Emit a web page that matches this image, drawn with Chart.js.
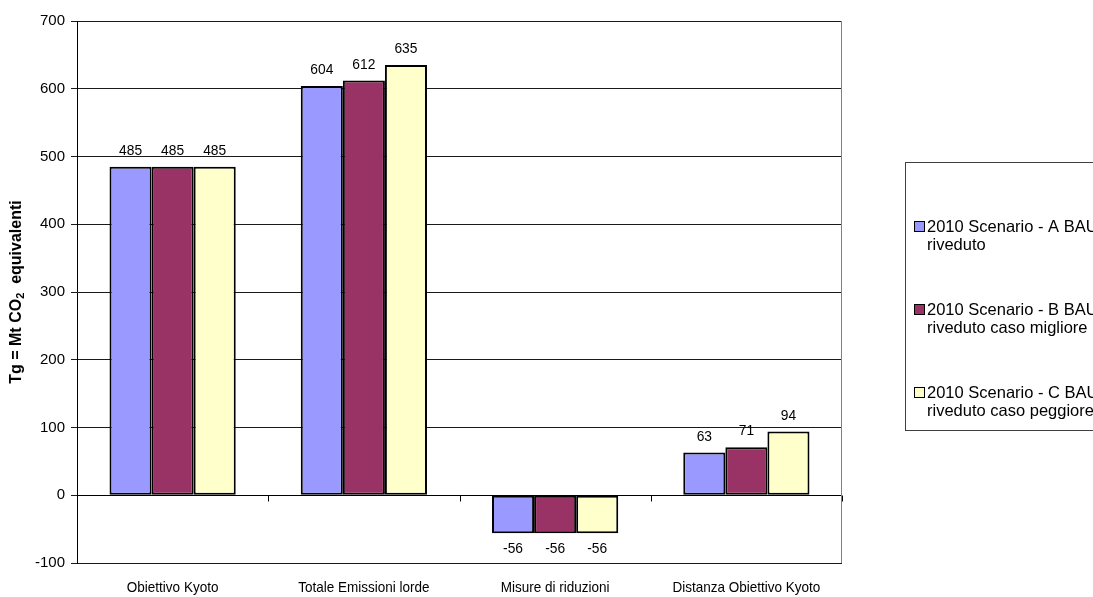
<!DOCTYPE html>
<html>
<head>
<meta charset="utf-8">
<script src="https://cdn.jsdelivr.net/npm/chart.js@4/dist/chart.umd.min.js"></script>
<style>
  html,body{margin:0;padding:0;background:#fff;}
  #wrap{position:relative;width:1093px;height:597px;overflow:hidden;}
</style>
</head>
<body>
<div id="wrap"><canvas id="c" width="1093" height="597"></canvas></div>
<script>
// emissions scenarios, Mt CO2 eq
const categories = ['Obiettivo Kyoto','Totale Emissioni lorde','Misure di riduzioni','Distanza Obiettivo Kyoto'];
const scenarioA = [485, 604, -56, 63];
const scenarioB = [485, 612, -56, 71];
const scenarioC = [485, 635, -56, 94];
const seriesNames = [
  ['2010 Scenario - A BAU','riveduto'],
  ['2010 Scenario - B BAU','riveduto caso migliore'],
  ['2010 Scenario - C BAU','riveduto caso peggiore']
];
const colors = ['#9999FF','#993366','#FFFFCC'];
const yTicks = [-100,0,100,200,300,400,500,600,700];

const FONT = '"Liberation Sans", Arial, sans-serif';

// value labels above / below each bar
const valueLabels = {
  id:'valueLabels',
  afterDatasetsDraw(chart){
    const ctx = chart.ctx;
    ctx.save();
    ctx.font = '15px ' + FONT;
    ctx.fillStyle = '#000';
    ctx.textAlign = 'center';
    ctx.textBaseline = 'middle';
    chart.data.datasets.forEach((ds,i)=>{
      chart.getDatasetMeta(i).data.forEach((bar,j)=>{
        const v = ds.data[j];
        const y = v >= 0 ? bar.y - 16 : bar.y + 16;
        ctx.save();
        ctx.translate(bar.x, y);
        ctx.scale(0.92, 1);
        ctx.fillText(String(v), 0, 0);
        ctx.restore();
      });
    });
    ctx.restore();
  }
};

// zero line with category ticks, right border, category names, axis title
const axisExtras = {
  id:'axisExtras',
  afterDatasetsDraw(chart){
    const {ctx, chartArea:a, scales:{x,y}} = chart;
    const y0 = Math.round(y.getPixelForValue(0)) + 0.5;
    ctx.save();
    ctx.strokeStyle = '#000';
    ctx.lineWidth = 1;
    ctx.beginPath();
    ctx.moveTo(a.left, y0); ctx.lineTo(a.right, y0);
    const step = x.getPixelForValue(1) - x.getPixelForValue(0);
    for (let i=0;i<=categories.length;i++){
      const px = Math.round(x.getPixelForValue(i) - step/2) + 0.5;
      ctx.moveTo(px, y0); ctx.lineTo(px, y0 + 6);
    }
    ctx.stroke();
    ctx.strokeStyle = '#808080';
    ctx.beginPath();
    ctx.moveTo(Math.round(a.right)-0.5, a.top);
    ctx.lineTo(Math.round(a.right)-0.5, a.bottom);
    ctx.stroke();

    // category names, slightly condensed
    ctx.fillStyle = '#000';
    ctx.font = '15px ' + FONT;
    ctx.textAlign = 'center';
    ctx.textBaseline = 'middle';
    categories.forEach((c,i)=>{
      ctx.save();
      ctx.translate(x.getPixelForValue(i), a.bottom + 25);
      ctx.scale(0.9, 1);
      ctx.fillText(c, 0, 0);
      ctx.restore();
    });

    // y axis title with subscript
    const parts = [['Tg = Mt CO', 16, 0], ['2', 11, 4], ['  equivalenti', 16, 0]];
    let total = 0;
    parts.forEach(p=>{ ctx.font = 'bold ' + p[1] + 'px ' + FONT; total += ctx.measureText(p[0]).width; });
    ctx.translate(17, (a.top + a.bottom)/2);
    ctx.rotate(-Math.PI/2);
    ctx.textAlign = 'left';
    let cx = -total/2;
    parts.forEach(p=>{
      ctx.font = 'bold ' + p[1] + 'px ' + FONT;
      ctx.fillText(p[0], cx, p[2]);
      cx += ctx.measureText(p[0]).width;
    });
    ctx.restore();
  }
};

// boxed legend on the right
const boxLegend = {
  id:'boxLegend',
  afterDraw(chart){
    const ctx = chart.ctx;
    ctx.save();
    ctx.strokeStyle = '#404040';
    ctx.lineWidth = 1;
    ctx.strokeRect(905.5, 162.5, 200, 268);
    ctx.font = '16.5px ' + FONT;
    ctx.textBaseline = 'middle';
    ctx.textAlign = 'left';
    seriesNames.forEach((lines,i)=>{
      const yy = 227 + i*83;
      ctx.fillStyle = colors[i];
      ctx.fillRect(914, yy-5, 10, 10);
      ctx.strokeStyle = '#000';
      ctx.strokeRect(914.5, yy-5.5, 10, 10);
      ctx.fillStyle = '#000';
      ctx.fillText(lines[0], 927, yy);
      ctx.fillText(lines[1], 927, yy + 18);
    });
    ctx.restore();
  }
};

new Chart(document.getElementById('c'), {
  type:'bar',
  data:{
    labels:categories,
    datasets:[scenarioA, scenarioB, scenarioC].map((d,i)=>({
      label:seriesNames[i].join(' '),
      data:d,
      backgroundColor:colors[i],
      borderColor:'#000',
      borderWidth:2,
      borderSkipped:false,
      categoryPercentage:0.66,
      barPercentage:1
    }))
  },
  options:{
    responsive:false,
    animation:false,
    layout:{padding:{left:0, top:21, right:251, bottom:0}},
    plugins:{legend:{display:false}, tooltip:{enabled:false}},
    scales:{
      x:{
        grid:{display:false, drawTicks:false},
        border:{display:false},
        ticks:{display:false},
        afterFit(s){ s.height = 34; }
      },
      y:{
        min:-100, max:700,
        afterBuildTicks(s){ s.ticks = yTicks.map(v=>({value:v})); },
        grid:{color:'#1a1a1a', lineWidth:1, tickLength:6},
        border:{color:'#000'},
        ticks:{color:'#000', font:{family:FONT, size:15}, padding:6},
        afterFit(s){ s.width = 77; }
      }
    }
  },
  plugins:[valueLabels, axisExtras, boxLegend]
});
</script>
</body>
</html>
